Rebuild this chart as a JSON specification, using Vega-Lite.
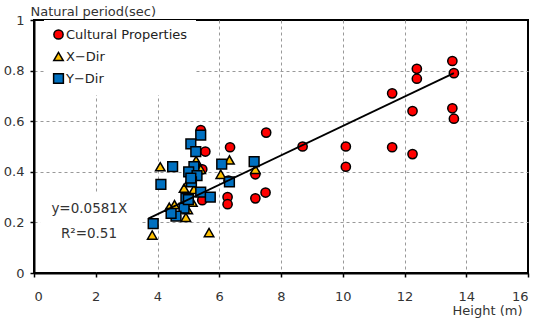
{
  "$schema": "https://vega.github.io/schema/vega-lite/v6.json",
  "width": 494,
  "height": 253,
  "autosize": {"type": "none"},
  "padding": {"left": 34, "top": 20, "right": 21, "bottom": 51},
  "background": "white",
  "config": {
    "font": "DejaVu Sans",
    "view": {"stroke": "black", "strokeWidth": 2}
  },
  "datasets": {
    "pts": [
      {"h": 5.4, "t": 0.565, "series": "Cultural Properties"},
      {"h": 5.55, "t": 0.48, "series": "Cultural Properties"},
      {"h": 5.45, "t": 0.41, "series": "Cultural Properties"},
      {"h": 5.45, "t": 0.288, "series": "Cultural Properties"},
      {"h": 6.35, "t": 0.497, "series": "Cultural Properties"},
      {"h": 6.3, "t": 0.365, "series": "Cultural Properties"},
      {"h": 6.27, "t": 0.3, "series": "Cultural Properties"},
      {"h": 6.27, "t": 0.272, "series": "Cultural Properties"},
      {"h": 7.52, "t": 0.555, "series": "Cultural Properties"},
      {"h": 7.17, "t": 0.39, "series": "Cultural Properties"},
      {"h": 7.5, "t": 0.318, "series": "Cultural Properties"},
      {"h": 7.17, "t": 0.295, "series": "Cultural Properties"},
      {"h": 8.7, "t": 0.5, "series": "Cultural Properties"},
      {"h": 10.1, "t": 0.5, "series": "Cultural Properties"},
      {"h": 10.1, "t": 0.42, "series": "Cultural Properties"},
      {"h": 11.6, "t": 0.71, "series": "Cultural Properties"},
      {"h": 11.6, "t": 0.497, "series": "Cultural Properties"},
      {"h": 12.26, "t": 0.64, "series": "Cultural Properties"},
      {"h": 12.26, "t": 0.47, "series": "Cultural Properties"},
      {"h": 12.4, "t": 0.807, "series": "Cultural Properties"},
      {"h": 12.4, "t": 0.768, "series": "Cultural Properties"},
      {"h": 13.55, "t": 0.838, "series": "Cultural Properties"},
      {"h": 13.6, "t": 0.79, "series": "Cultural Properties"},
      {"h": 13.55, "t": 0.651, "series": "Cultural Properties"},
      {"h": 13.6, "t": 0.61, "series": "Cultural Properties"},
      {"h": 4.09, "t": 0.42, "series": "X−Dir"},
      {"h": 3.83, "t": 0.15, "series": "X−Dir"},
      {"h": 4.92, "t": 0.22, "series": "X−Dir"},
      {"h": 4.86, "t": 0.335, "series": "X−Dir"},
      {"h": 5.13, "t": 0.28, "series": "X−Dir"},
      {"h": 4.55, "t": 0.27, "series": "X−Dir"},
      {"h": 4.38, "t": 0.26, "series": "X−Dir"},
      {"h": 6.33, "t": 0.447, "series": "X−Dir"},
      {"h": 6.05, "t": 0.39, "series": "X−Dir"},
      {"h": 5.67, "t": 0.16, "series": "X−Dir"},
      {"h": 5.25, "t": 0.445, "series": "X−Dir"},
      {"h": 5.18, "t": 0.33, "series": "X−Dir"},
      {"h": 7.17, "t": 0.41, "series": "X−Dir"},
      {"h": 5.4, "t": 0.41, "series": "X−Dir"},
      {"h": 5.0, "t": 0.36, "series": "X−Dir"},
      {"h": 4.98, "t": 0.25, "series": "X−Dir"},
      {"h": 5.4, "t": 0.545, "series": "Y−Dir"},
      {"h": 5.08, "t": 0.51, "series": "Y−Dir"},
      {"h": 5.24, "t": 0.48, "series": "Y−Dir"},
      {"h": 4.49, "t": 0.42, "series": "Y−Dir"},
      {"h": 4.11, "t": 0.35, "series": "Y−Dir"},
      {"h": 5.18, "t": 0.42, "series": "Y−Dir"},
      {"h": 5.01, "t": 0.4, "series": "Y−Dir"},
      {"h": 5.28, "t": 0.385, "series": "Y−Dir"},
      {"h": 5.1, "t": 0.36, "series": "Y−Dir"},
      {"h": 5.4, "t": 0.32, "series": "Y−Dir"},
      {"h": 5.71, "t": 0.3, "series": "Y−Dir"},
      {"h": 4.92, "t": 0.295, "series": "Y−Dir"},
      {"h": 4.86, "t": 0.256, "series": "Y−Dir"},
      {"h": 4.6, "t": 0.225, "series": "Y−Dir"},
      {"h": 4.44, "t": 0.236, "series": "Y−Dir"},
      {"h": 3.86, "t": 0.195, "series": "Y−Dir"},
      {"h": 6.08, "t": 0.43, "series": "Y−Dir"},
      {"h": 6.33, "t": 0.36, "series": "Y−Dir"},
      {"h": 7.13, "t": 0.44, "series": "Y−Dir"},
      {"h": 5.0, "t": 0.29, "series": "Y−Dir"},
      {"h": 5.08, "t": 0.375, "series": "Y−Dir"}
    ],
    "fit": [
      {"h": 3.7, "t": 0.215},
      {"h": 13.6, "t": 0.79}
    ],
    "one": [{}]
  },
  "layer": [
    {
      "data": {"name": "one"},
      "mark": {"type": "rect", "fill": "white"},
      "encoding": {
        "x": {"datum": 0.2},
        "x2": {"datum": 3.45},
        "y": {"datum": 0.01},
        "y2": {"datum": 0.32}
      }
    },
    {
      "data": {"name": "pts"},
      "mark": {"type": "point", "filled": true, "stroke": "black", "strokeWidth": 1.5, "opacity": 1},
      "encoding": {
        "x": {
          "field": "h", "type": "quantitative",
          "scale": {"domain": [0, 16], "nice": false, "zero": false},
          "axis": {
            "values": [0, 2, 4, 6, 8, 10, 12, 14, 16], "format": "~g",
            "grid": true, "gridDash": [3, 3], "gridColor": "#999", "gridWidth": 1,
            "gridOpacity": {"condition": {"test": "datum.value === 0 || datum.value === 16", "value": 0}, "value": 1},
            "domainColor": "black", "domainWidth": 2,
            "tickColor": "black", "tickSize": 4, "tickWidth": 1.5,
            "labelFontSize": 13, "labelColor": "#333", "labelPadding": 13,
            "title": "Height (m)", "titleFontSize": 13, "titleFontWeight": "normal", "titleColor": "#333",
            "titleX": 488, "titleY": 37, "titleAlign": "right", "titleBaseline": "middle"
          }
        },
        "y": {
          "field": "t", "type": "quantitative",
          "scale": {"domain": [0, 1], "nice": false, "zero": false},
          "axis": {
            "values": [0, 0.2, 0.4, 0.6, 0.8, 1], "format": "~g",
            "grid": true, "gridDash": [3, 3], "gridColor": "#999", "gridWidth": 1,
            "gridOpacity": {"condition": {"test": "datum.value === 0 || datum.value === 1", "value": 0}, "value": 1},
            "domainColor": "black", "domainWidth": 2,
            "tickColor": "black", "tickSize": 4, "tickWidth": 1.5,
            "labelFontSize": 13, "labelColor": "#333", "labelPadding": 6,
            "title": "Natural period(sec)", "titleFontSize": 13, "titleFontWeight": "normal", "titleColor": "#333",
            "titleAngle": 0, "titleX": -4, "titleY": -5, "titleAlign": "left", "titleBaseline": "alphabetic"
          }
        },
        "color": {
          "field": "series", "type": "nominal",
          "scale": {"domain": ["Cultural Properties", "X−Dir", "Y−Dir"], "range": ["#FF0000", "#FFC000", "#0070C0"]},
          "legend": {
            "title": null, "orient": "none", "legendX": 10, "legendY": 0, "padding": 8,
            "fillColor": "white", "labelFontSize": 13, "labelColor": "#222", "labelOffset": 1,
            "symbolSize": 60, "symbolStrokeColor": "black", "symbolStrokeWidth": 1.5, "rowPadding": 6
          }
        },
        "shape": {
          "field": "series", "type": "nominal",
          "scale": {"domain": ["Cultural Properties", "X−Dir", "Y−Dir"], "range": ["circle", "triangle-up", "square"]},
          "legend": {
            "title": null, "orient": "none", "legendX": 10, "legendY": 0, "padding": 8,
            "fillColor": "white", "labelFontSize": 13, "labelColor": "#222", "labelOffset": 1,
            "symbolSize": 60, "symbolStrokeColor": "black", "symbolStrokeWidth": 1.5, "rowPadding": 6
          }
        },
        "size": {
          "field": "series", "type": "nominal",
          "scale": {"domain": ["Cultural Properties", "X−Dir", "Y−Dir"], "range": [85, 95, 85]},
          "legend": null
        }
      }
    },
    {
      "data": {"name": "fit"},
      "mark": {"type": "line", "color": "black", "strokeWidth": 1.8},
      "encoding": {
        "x": {"field": "h", "type": "quantitative"},
        "y": {"field": "t", "type": "quantitative"}
      }
    },
    {
      "data": {"name": "one"},
      "mark": {"type": "text", "fontSize": 13.5, "color": "#333", "align": "center", "baseline": "middle"},
      "encoding": {
        "x": {"datum": 1.79},
        "y": {"datum": 0.252},
        "text": {"value": "y=0.0581X"}
      }
    },
    {
      "data": {"name": "one"},
      "mark": {"type": "text", "fontSize": 13.5, "color": "#333", "align": "center", "baseline": "middle"},
      "encoding": {
        "x": {"datum": 1.78},
        "y": {"datum": 0.154},
        "text": {"value": "R²=0.51"}
      }
    }
  ]
}
